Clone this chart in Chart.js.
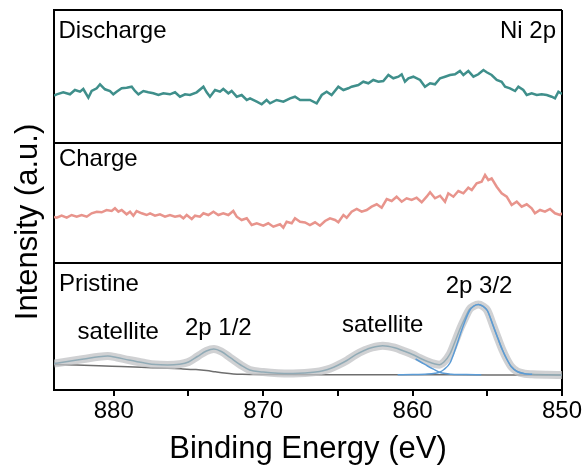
<!DOCTYPE html>
<html>
<head>
<meta charset="utf-8">
<script src="https://cdn.jsdelivr.net/npm/chart.js@4.4.1/dist/chart.umd.min.js"></script>
<style>
  html, body { margin: 0; padding: 0; background: #fff; }
  #xps { display: block; }
</style>
</head>
<body>
<canvas id="xps" width="586" height="468"></canvas>
<script>
// Ni 2p XPS spectra: discharge / charge / pristine, stacked in one frame

const FONT = "'Liberation Sans', Arial, sans-serif";

// x axis (binding energy, eV) - drawn high to low
const xTicks = [880, 875, 870, 865, 860, 855, 850];
const xLabeled = [880, 870, 860, 850];

// y axis: three panels share one intensity scale, split at these edges
const panelEdges = [0, 127, 247, 380];
const panelOffsets = { pristine: 0, charge: 127, discharge: 247 };

// Discharge
const dischargeEnergy = [884.0, 883.82, 883.38, 882.93, 882.60, 882.26, 882.04, 881.70, 881.48, 881.14,
  880.92, 880.59, 880.25, 880.03, 879.81, 879.47, 879.14, 878.80, 878.58, 878.35,
  878.02, 877.69, 877.35, 877.01, 876.68, 876.24, 875.90, 875.57, 875.23, 874.90,
  874.45, 874.00, 873.78, 873.56, 873.22, 872.89, 872.67, 872.33, 872.11, 871.77,
  871.44, 871.10, 870.88, 870.43, 870.10, 869.77, 869.54, 869.10, 868.65, 868.20,
  867.87, 867.53, 867.20, 866.87, 866.42, 866.08, 865.75, 865.42, 864.97, 864.63,
  864.30, 864.08, 863.63, 863.30, 862.96, 862.63, 862.29, 861.96, 861.62, 861.29,
  860.95, 860.73, 860.51, 860.28, 859.95, 859.50, 859.17, 858.83, 858.50, 858.16,
  857.83, 857.50, 857.16, 856.83, 856.60, 856.27, 855.93, 855.60, 855.26, 855.04,
  854.71, 854.37, 854.04, 853.81, 853.48, 853.14, 852.92, 852.59, 852.36, 852.03,
  851.69, 851.36, 851.02, 850.69, 850.47, 850.24, 850.0];
const dischargeIntensity = [47.5, 48.7, 50.7, 48.7, 53, 51.3, 54, 45.3, 52, 54.7,
  58.7, 53.7, 52, 48.7, 51.3, 54.7, 55.3, 56.3, 52, 48.7,
  52, 50.7, 49.7, 48, 49.7, 48.7, 50.7, 46.3, 48.7, 48,
  50.7, 56.3, 50.7, 46.3, 53, 51.3, 54, 49.7, 52, 46.3,
  48, 43, 44.7, 41.3, 38.7, 43, 39.7, 43, 41.3, 44.7,
  46.3, 43, 43, 43, 39.7, 48, 51.3, 48, 56.3, 53,
  54.7, 56.3, 58, 61.3, 59.7, 63, 61.3, 62, 68, 64.7,
  66.3, 68.7, 61.3, 64.7, 66.3, 63, 56.3, 59.7, 58.7, 64.7,
  66.3, 68, 68.7, 72, 68, 72, 66.3, 68.7, 73, 70.7,
  68, 63, 61.3, 56.3, 54.7, 52, 56.3, 53, 48, 49.7,
  48, 48.7, 48, 46.3, 44.7, 51.3, 49];

// Charge
const chargeEnergy = [884.0, 883.82, 883.49, 883.15, 882.82, 882.48, 882.15, 881.81, 881.48, 881.14,
  880.81, 880.48, 880.14, 879.92, 879.69, 879.47, 879.14, 878.91, 878.69, 878.47,
  878.13, 877.80, 877.57, 877.24, 876.91, 876.57, 876.24, 875.90, 875.57, 875.34,
  875.12, 874.78, 874.56, 874.23, 874.00, 873.67, 873.33, 873.00, 872.67, 872.33,
  872.00, 871.77, 871.44, 871.10, 870.77, 870.43, 869.99, 869.66, 869.32, 868.87,
  868.65, 868.43, 868.09, 867.87, 867.53, 867.20, 866.87, 866.53, 866.20, 865.86,
  865.53, 865.19, 864.97, 864.63, 864.41, 864.08, 863.74, 863.41, 863.07, 862.74,
  862.40, 862.07, 861.73, 861.40, 861.07, 860.73, 860.40, 860.06, 859.73, 859.39,
  859.06, 858.83, 858.50, 858.16, 857.83, 857.61, 857.27, 856.94, 856.60, 856.27,
  856.04, 855.71, 855.38, 855.15, 854.93, 854.71, 854.37, 854.04, 853.70, 853.37,
  853.03, 852.70, 852.36, 852.03, 851.81, 851.47, 851.14, 850.80, 850.47, 850.13, 850.0];
const chargeIntensity = [46, 45.3, 47.3, 45.3, 48, 46.3, 48, 46.3, 49.7, 51.3,
  50.7, 53, 52, 54.7, 51.3, 53, 48.7, 51.3, 47.3, 52,
  49.7, 48, 49.7, 47.3, 48.7, 46.3, 48, 46.3, 47.3, 44.7,
  48, 44, 47.3, 46.3, 49.7, 48, 51.3, 48, 49.7, 48,
  52, 46.3, 43, 44.7, 38, 39.7, 37.3, 39.7, 36.3, 38.7,
  35.3, 41.3, 39.7, 44.7, 41.3, 40.5, 38, 40.7, 37.3, 42,
  44.7, 43, 40.7, 48, 45.3, 51.3, 54, 51.3, 53, 56.3,
  58.7, 55.3, 64, 62, 66.3, 61.3, 64.7, 63, 65.3, 60.7,
  66.3, 70.7, 64.7, 67.3, 61.3, 69.7, 66.3, 72, 69.7, 75.3,
  73, 79.7, 81.3, 88, 83, 84.7, 76.3, 69.7, 66.3, 58,
  61.3, 56.3, 58.7, 54.7, 49.7, 53, 51.3, 54, 49.7, 48, 50];

// Pristine: measured envelope
const pristineEnergy = [884.0, 883.2, 882.0, 881.0, 880.4, 879.8, 879.0, 878.0, 877.2, 876.4,
  875.6, 875.0, 874.4, 873.8, 873.3, 872.8, 872.2, 871.5, 870.9, 870.0,
  869.0, 868.0, 867.2, 866.5, 866.0, 865.5, 865.0, 864.4, 863.8, 863.2,
  862.7, 862.0, 861.2, 860.6, 860.0, 859.5, 859.0, 858.5, 858.2, 857.9,
  857.5, 857.16, 856.8, 856.49, 856.2, 855.9, 855.6, 855.3, 855.0, 854.6,
  854.3, 854.0, 853.7, 853.4, 853.0, 852.5, 852.0, 851.0, 850.0];
const pristineIntensity = [26.5, 28.2, 31, 33.3, 34, 32.5, 30, 27.2, 25.4, 25,
  25.8, 28, 33.5, 39, 41, 38.5, 32.3, 25, 20, 18,
  16.8, 16.6, 17, 18, 19.3, 21.5, 24.8, 29.5, 35.3, 39.8,
  42.5, 44.3, 42.3, 39, 35.5, 31.8, 28.5, 26, 25.3, 28,
  36, 48.3, 62, 72, 80.5, 84, 85.5, 83.8, 79.5, 64,
  52, 40.5, 31, 23.5, 18.5, 16.3, 15.7, 15.2, 15];

// Pristine: background
const bgEnergy = [884.0, 882.5, 881.0, 879.5, 877.5, 875.5, 874.5, 873.8, 873.2, 872.6,
  872.0, 871.4, 870.5, 869.0, 865.0, 860.0, 855.0, 850.0];
const bgIntensity = [25.5, 25, 24.3, 23.4, 22.3, 21.2, 20.4, 19.4, 18.2, 17,
  16.1, 15.7, 15.5, 15.4, 15.3, 15.2, 15.1, 15];

// Pristine: fitted components (2p 3/2 and the satellite tail next to it)
const comp32Energy = [861.0, 860.0, 859.0, 858.5, 858.2, 857.9, 857.5, 857.16, 856.8, 856.49,
  856.2, 855.9, 855.6, 855.3, 855.0, 854.6, 854.3, 854.0, 853.7, 853.4,
  853.0, 852.5, 852.0];
const comp32Intensity = [15.3, 15.4, 15.9, 16.7, 17.8, 20.5, 27, 40, 56, 69,
  79, 84, 85.5, 83.8, 79.5, 64, 52, 40.5, 31, 23.5,
  18.5, 16.3, 15.7];
const compSatEnergy = [859.8, 859.4, 859.0, 858.6, 858.2, 857.8, 857.4, 857.0, 856.4, 855.4];
const compSatIntensity = [31, 27.5, 24, 20.8, 17.8, 16.4, 15.8, 15.5, 15.4, 15.3];

function points(energy, intensity, offset) {
    return energy.map((e, i) => ({ x: e, y: offset + intensity[i] }));
}

const notes = [
    { text: 'Discharge', e: 883.7, v: 352, align: 'left' },
    { text: 'Ni 2p', e: 850.4, v: 352, align: 'right' },
    { text: 'Charge', e: 883.67, v: 224, align: 'left' },
    { text: 'Pristine', e: 883.67, v: 99, align: 'left' },
    { text: 'satellite', e: 879.7, v: 51, align: 'center' },
    { text: '2p 1/2', e: 873.0, v: 55, align: 'center' },
    { text: 'satellite', e: 862.0, v: 58, align: 'center' },
    { text: '2p 3/2', e: 855.55, v: 97, align: 'center' }
];

// panel captions + rotated y title
const labelsPlugin = {
    id: 'panelLabels',
    afterDraw(chart) {
        const { ctx, scales: { x, y } } = chart;
        ctx.save();
        ctx.fillStyle = '#000';
        ctx.font = `24px ${FONT}`;
        ctx.textBaseline = 'alphabetic';
        notes.forEach(n => {
            ctx.textAlign = n.align;
            ctx.fillText(n.text, x.getPixelForValue(n.e), y.getPixelForValue(n.v));
        });
        ctx.translate(28, 222);
        ctx.rotate(-Math.PI / 2);
        ctx.font = `31px ${FONT}`;
        ctx.textAlign = 'center';
        ctx.textBaseline = 'middle';
        ctx.fillText('Intensity (a.u.)', 0, 0);
        ctx.restore();
    }
};

const smooth = { cubicInterpolationMode: 'monotone', pointRadius: 0 };

new Chart(document.getElementById('xps'), {
    type: 'line',
    data: {
        datasets: [
            { data: points(comp32Energy, comp32Intensity, panelOffsets.pristine), borderColor: '#5b9bd5', borderWidth: 1.5, ...smooth },
            { data: points(compSatEnergy, compSatIntensity, panelOffsets.pristine), borderColor: '#5b9bd5', borderWidth: 1.5, ...smooth },
            { data: points(pristineEnergy, pristineIntensity, panelOffsets.pristine), borderColor: 'rgba(135,165,178,0.85)', borderWidth: 1.5, ...smooth },
            { data: points(pristineEnergy, pristineIntensity, panelOffsets.pristine), borderColor: 'rgba(192,194,196,0.75)', borderWidth: 8, ...smooth },
            { data: points(bgEnergy, bgIntensity, panelOffsets.pristine), borderColor: '#6e6e6e', borderWidth: 1.5, ...smooth },
            { data: points(chargeEnergy, chargeIntensity, panelOffsets.charge), borderColor: '#e8948c', borderWidth: 2.5, tension: 0, pointRadius: 0 },
            { data: points(dischargeEnergy, dischargeIntensity, panelOffsets.discharge), borderColor: '#3f8f8b', borderWidth: 2.5, tension: 0, pointRadius: 0 }
        ]
    },
    options: {
        responsive: false,
        animation: false,
        devicePixelRatio: 1,
        layout: { padding: { top: 10, right: 24, left: 0, bottom: 0 } },
        plugins: { legend: { display: false }, tooltip: { enabled: false } },
        scales: {
            x: {
                type: 'linear',
                min: 850,
                max: 884,
                reverse: true,
                afterBuildTicks: s => { s.ticks = xTicks.map(v => ({ value: v })); },
                afterFit: s => { s.height = 78; },
                ticks: {
                    autoSkip: false,
                    maxRotation: 0,
                    padding: 1,
                    color: '#000',
                    font: { family: FONT, size: 24 },
                    callback: v => xLabeled.includes(v) ? String(v) : ''
                },
                grid: {
                    color: c => (c.tick && c.tick.value === 850) ? '#000' : 'rgba(0,0,0,0)',
                    lineWidth: 2,
                    tickLength: 6,
                    tickColor: '#000',
                    tickWidth: 2
                },
                border: { color: '#000', width: 2 },
                title: {
                    display: true,
                    text: 'Binding Energy (eV)',
                    color: '#000',
                    font: { family: FONT, size: 31 },
                    padding: { top: 8, bottom: 0 }
                }
            },
            y: {
                min: 0,
                max: 380,
                afterBuildTicks: s => { s.ticks = panelEdges.map(v => ({ value: v })); },
                afterFit: s => { s.width = 54; },
                ticks: { display: false },
                grid: { color: '#000', lineWidth: 2, drawTicks: false },
                border: { color: '#000', width: 2 }
            }
        }
    },
    plugins: [labelsPlugin]
});
</script>
</body>
</html>
